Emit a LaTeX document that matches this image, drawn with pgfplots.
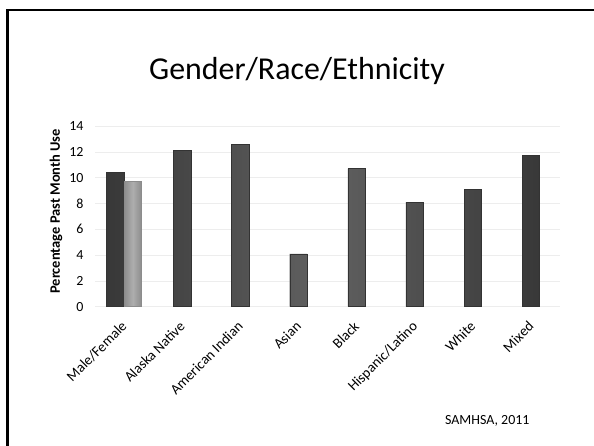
\documentclass[border=0pt]{standalone}
\usepackage{fontspec}
\setmainfont{Carlito}
\usepackage{pgfplots}
\pgfplotsset{compat=1.18}
\begin{document}
\begin{tikzpicture}[x=1bp,y=1bp]
\useasboundingbox (0,0) rectangle (594,446);
\fill[white] (0,0) rectangle (594,446);
\draw[line width=2.8bp, black] (7.5,0) -- (7.5,436) -- (594,436);
\node[font=\fontsize{32}{36}\selectfont] at (297,375) {Gender/Race/Ethnicity};
\node[font=\fontsize{14}{16}\selectfont, anchor=east] at (533,25.3) {SAMHSA, 2011};
\begin{axis}[
  at={(95bp,139.3bp)}, anchor=south west,
  scale only axis, width=465bp, height=180.7bp,
  xmin=-0.5, xmax=7.5, ymin=0, ymax=14,
  ytick={0,2,...,14},
  xtick={0,...,7},
  xticklabels={Male/Female, Alaska Native, American Indian, Asian, Black, Hispanic/Latino, White, Mixed},
  axis line style={draw=none},
  tick style={draw=none},
  ymajorgrids, grid style={black!7},
  ybar, bar width=0.3, bar shift=0pt,
  /pgf/number format/assume math mode=true,
  yticklabel style={font=\fontsize{14}{16}\selectfont, xshift=-8bp},
  xticklabel style={font=\fontsize{14.5}{16}\selectfont, xshift=6bp, yshift=-14bp, rotate=45, anchor=base east},
  ylabel={\textbf{Percentage Past Month Use}},
  every axis y label/.style={at={(axis description cs:0,0.5)}, xshift=-39bp, yshift=5bp, rotate=90, anchor=center, font=\fontsize{14.5}{16}\selectfont},
  clip=false,
]
\addplot[draw=black!80, left color=black!78, right color=black!78, middle color=black!62] coordinates {
  (-0.15,10.4) (1,12.1) (2,12.6) (3,4.1) (4,10.7) (5,8.1) (6,9.1) (7,11.7)
};
\addplot[draw=black!45, left color=black!45, right color=black!45, middle color=black!32] coordinates {
  (0.15,9.7)
};
\end{axis}
\end{tikzpicture}
\end{document}
